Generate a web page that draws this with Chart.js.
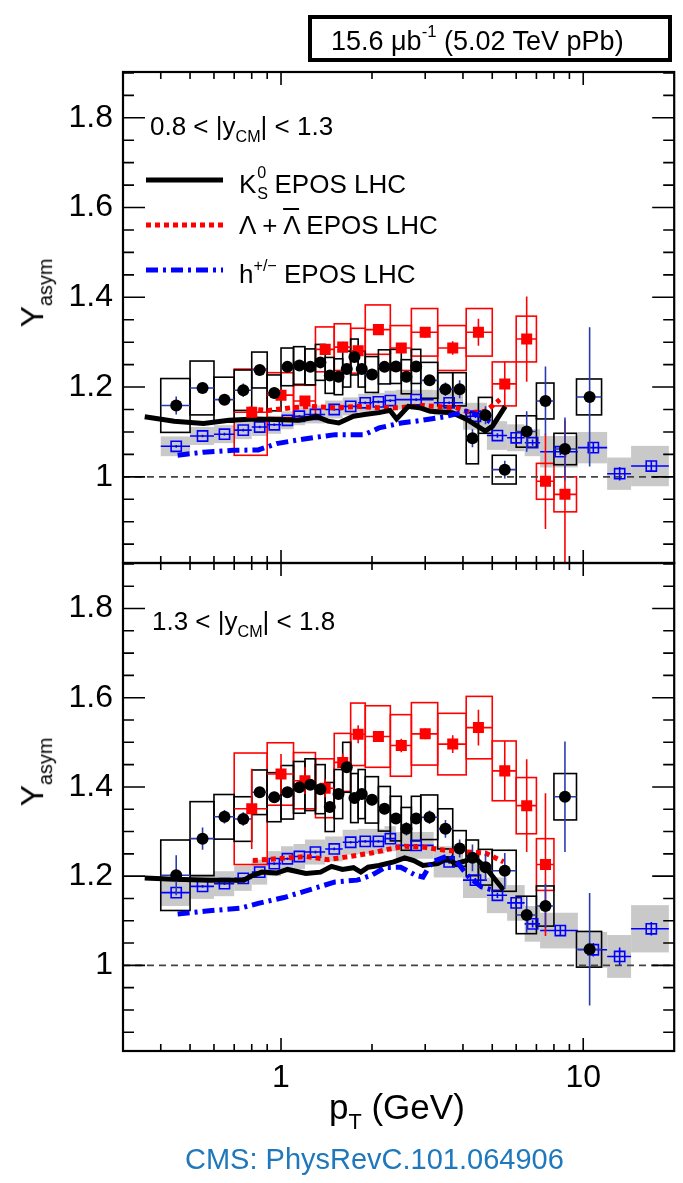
<!DOCTYPE html>
<html>
<head>
<meta charset="utf-8">
<script src="https://cdn.jsdelivr.net/npm/chart.js@4.4.1/dist/chart.umd.min.js"></script>
<style>
  body { margin: 0; background: #fff; }
  #wrap { position: relative; width: 683px; height: 1183px; overflow: hidden;
          font-family: "Liberation Sans", Arial, sans-serif; color: #000; }
  canvas { position: absolute; left: 0; top: 0; }
  .t { position: absolute; white-space: nowrap; line-height: 1; }
  .t sub { font-size: 62%; vertical-align: -0.45em; }
  .t sup { font-size: 62%; vertical-align: 0.75em; }
  #lumi { left: 308px; top: 15px; width: 364px; height: 47px; box-sizing: border-box;
          border: 4px solid #000; font-size: 27px; display: flex; align-items: center;
          justify-content: flex-start; padding: 2px 0 0 19px; }
  .rap { font-size: 26px; }
  .leg { font-size: 26px; }
  .ss { position: relative; display: inline-block; width: 0.42em; height: 1em; vertical-align: baseline; }
  .ss .s0 { position: absolute; left: 1px; top: -0.18em; font-size: 62%; }
  .ss .s1 { position: absolute; left: 1px; top: 1.1em; font-size: 62%; }
  .sample { position: absolute; }
  .ytitle { font-size: 32px; transform: translate(-50%, -50%) rotate(-90deg); }
  #xtitle { left: 329px; top: 1089px; font-size: 35px; }
  #footer { left: 185px; top: 1145px; font-size: 29px; color: #1f78bb; }
</style>
</head>
<body>
<div id="wrap">
  <canvas id="cTop" width="683" height="1183"></canvas>
  <canvas id="cBot" width="683" height="1183"></canvas>

  <div class="t" id="lumi"><span>15.6 μb<sup>-1</sup> (5.02 TeV pPb)</span></div>

  <div class="t rap" style="left:150px; top:113px;">0.8 &lt; |y<sub>CM</sub>| &lt; 1.3</div>
  <div class="t rap" style="left:152px; top:608px;">1.3 &lt; |y<sub>CM</sub>| &lt; 1.8</div>

  <svg class="sample" style="left:146px; top:174px;" width="78" height="12">
    <line x1="0" y1="6" x2="77" y2="6" stroke="#000" stroke-width="5"/></svg>
  <div class="t leg" style="left:239px; top:167px;">K<span class="ss"><span class="s0">0</span><span class="s1">S</span></span> EPOS LHC</div>

  <svg class="sample" style="left:146px; top:219px;" width="78" height="12">
    <line x1="0" y1="6" x2="77" y2="6" stroke="#f00" stroke-width="5" stroke-dasharray="5 4"/></svg>
  <div class="t leg" style="left:239px; top:212px;">Λ + <span style="text-decoration:overline">Λ</span> EPOS LHC</div>

  <svg class="sample" style="left:146px; top:264px;" width="78" height="12">
    <line x1="0" y1="6" x2="77" y2="6" stroke="#00f" stroke-width="5" stroke-dasharray="12 5 3 5"/></svg>
  <div class="t leg" style="left:239px; top:257px;">h<sup>+/−</sup> EPOS LHC</div>

  <div class="t ytitle" style="left:36px; top:293px;">Y<sub>asym</sub></div>
  <div class="t ytitle" style="left:36px; top:772px;">Y<sub>asym</sub></div>

  <div class="t" id="xtitle">p<sub>T</sub> (GeV)</div>
  <div class="t" id="footer">CMS: PhysRevC.101.064906</div>
</div>

<script>
/* ---------- axes ---------- */
const xMin = 0.3, xMax = 20;
const yMin = 0.808, yMax = 1.902;
const refY = 1;
const xTickVals = [1, 10];
const xMinorVals = [0.4, 0.5, 0.6, 0.7, 0.8, 0.9, 2, 3, 4, 5, 6, 7, 8, 9];
const yTickVals = [1, 1.2, 1.4, 1.6, 1.8];

/* ---------- K0S data (black circles) ---------- */
const kPt    = [0.45,0.55,0.65,0.75,0.85,0.95,1.05,1.15,1.25,1.35,1.45,1.55,1.65,1.75,1.85,2.0,2.2,2.4,2.6,2.8,3.1,3.5,3.9,4.3,4.75,5.5,6.5,7.5,8.7,10.5];
const kEdges = [0.4,0.5,0.6,0.7,0.8,0.9,1.0,1.1,1.2,1.3,1.4,1.5,1.6,1.7,1.8,1.9,2.1,2.3,2.5,2.7,2.9,3.3,3.7,4.1,4.5,5.0,6.0,7.0,8.0,9.5,11.5];
const kTopY    = [1.159,1.198,1.172,1.193,1.238,1.187,1.245,1.248,1.245,1.255,1.226,1.223,1.240,1.267,1.240,1.228,1.245,1.246,1.223,1.246,1.215,1.195,1.195,1.086,1.137,1.016,1.101,1.169,1.062,1.178];
const kTopStat = [0.02,0.012,0.012,0.015,0.012,0.012,0.01,0.01,0.01,0.01,0.01,0.01,0.01,0.012,0.01,0.01,0.01,0.01,0.01,0.01,0.012,0.015,0.02,0.02,0.02,0.02,0.045,0.077,0.07,0.155];
const kTopSys  = [0.06,0.06,0.05,0.045,0.04,0.04,0.042,0.042,0.04,0.04,0.04,0.04,0.04,0.04,0.04,0.04,0.038,0.038,0.038,0.038,0.04,0.037,0.037,0.057,0.04,0.032,0.035,0.04,0.035,0.04];
const kBotY    = [1.202,1.284,1.333,1.328,1.388,1.377,1.388,1.399,1.405,1.395,1.355,1.384,1.444,1.375,1.384,1.371,1.351,1.329,1.306,1.329,1.332,1.306,1.262,1.241,1.22,1.212,1.113,1.133,1.378,1.036];
const kBotStat = [0.045,0.025,0.015,0.015,0.012,0.012,0.012,0.012,0.012,0.012,0.012,0.012,0.012,0.012,0.012,0.012,0.012,0.012,0.015,0.012,0.015,0.02,0.02,0.03,0.03,0.04,0.04,0.05,0.124,0.126];
const kBotSys  = [0.079,0.083,0.05,0.05,0.05,0.055,0.06,0.058,0.058,0.055,0.055,0.055,0.056,0.055,0.055,0.052,0.05,0.05,0.048,0.05,0.05,0.045,0.04,0.04,0.04,0.046,0.042,0.045,0.052,0.04];

/* ---------- Lambda data (red squares) ---------- */
const lamPt    = [0.8,1.0,1.2,1.4,1.6,1.8,2.1,2.5,3.0,3.7,4.5,5.5,6.5,7.5,8.7];
const lamEdges = [0.7,0.9,1.1,1.3,1.5,1.7,1.9,2.3,2.7,3.3,4.1,5.0,6.0,7.0,8.0,9.5];
const lamTopY    = [1.144,1.182,1.169,1.284,1.289,1.281,1.328,1.287,1.322,1.287,1.322,1.207,1.307,0.99,0.961];
const lamTopStat = [0.012,0.012,0.01,0.012,0.012,0.012,0.012,0.01,0.012,0.015,0.03,0.05,0.095,0.106,0.165];
const lamTopSys  = [0.096,0.05,0.035,0.05,0.052,0.05,0.055,0.05,0.053,0.05,0.053,0.049,0.051,0.04,0.039];
const lamBotY    = [1.351,1.429,1.414,1.397,1.455,1.518,1.513,1.493,1.519,1.496,1.533,1.436,1.358,1.226];
const lamBotStat = [0.09,0.045,0.03,0.02,0.02,0.02,0.012,0.015,0.012,0.02,0.04,0.067,0.104,0.16];
const lamBotSys  = [0.125,0.07,0.063,0.066,0.065,0.07,0.069,0.069,0.07,0.069,0.07,0.067,0.063,0.058];

/* ---------- charged hadron data (blue open squares) ---------- */
const hPt    = [0.45,0.55,0.65,0.75,0.85,0.95,1.05,1.15,1.3,1.5,1.7,1.9,2.1,2.3,2.8,3.6,4.4,5.2,6.0,6.8,8.4,10.8,13.2,16.8];
const hEdges = [0.4,0.5,0.6,0.7,0.8,0.9,1.0,1.1,1.2,1.4,1.6,1.8,2.0,2.2,2.4,3.2,4.0,4.8,5.6,6.4,7.2,9.6,12,14.4,19.2];
const hTopY    = [1.068,1.091,1.095,1.104,1.111,1.116,1.126,1.135,1.139,1.15,1.157,1.165,1.167,1.17,1.172,1.165,1.135,1.092,1.087,1.076,1.056,1.065,1.007,1.024];
const hTopStat = [0.003,0.003,0.003,0.003,0.003,0.003,0.003,0.003,0.003,0.003,0.003,0.003,0.003,0.003,0.003,0.003,0.004,0.005,0.006,0.007,0.008,0.012,0.015,0.012];
const hTopSys  = [0.022,0.02,0.02,0.02,0.02,0.02,0.02,0.02,0.02,0.02,0.02,0.02,0.02,0.022,0.022,0.028,0.03,0.032,0.03,0.03,0.035,0.035,0.036,0.045];
const hBotY    = [1.163,1.177,1.183,1.195,1.209,1.228,1.239,1.244,1.254,1.261,1.276,1.278,1.278,1.284,1.269,1.232,1.191,1.157,1.14,1.093,1.078,1.035,1.02,1.082];
const hBotStat = [0.003,0.003,0.003,0.003,0.003,0.003,0.003,0.003,0.003,0.003,0.003,0.003,0.003,0.003,0.003,0.004,0.005,0.006,0.007,0.008,0.01,0.015,0.02,0.015];
const hBotSys  = [0.03,0.028,0.028,0.028,0.028,0.028,0.028,0.028,0.028,0.028,0.028,0.028,0.028,0.028,0.03,0.035,0.04,0.04,0.04,0.04,0.04,0.04,0.048,0.053];

/* ---------- EPOS LHC curves ---------- */
const eposKTopX = [0.354,0.443,0.554,0.673,0.818,0.967,1.143,1.314,1.43,1.553,1.737,1.888,2.11,2.295,2.413,2.638,2.868,3.12,3.686,4.12,4.74,5.01,5.52];
const eposKTopY = [1.134,1.124,1.119,1.126,1.129,1.128,1.126,1.134,1.124,1.12,1.135,1.139,1.143,1.148,1.129,1.157,1.154,1.146,1.143,1.128,1.102,1.113,1.157];
const eposLTopX = [0.785,0.915,1.081,1.26,1.51,1.79,2.11,2.49,2.95,3.39,3.79,4.24,4.74,5.3];
const eposLTopY = [1.151,1.148,1.154,1.157,1.154,1.157,1.154,1.154,1.159,1.156,1.154,1.143,1.146,1.172];
const eposHTopX = [0.455,0.554,0.692,0.841,0.967,1.208,1.51,1.888,2.11,2.495,2.79,3.49,4.12,4.6,5.01];
const eposHTopY = [1.048,1.055,1.059,1.06,1.074,1.085,1.094,1.094,1.109,1.12,1.124,1.134,1.146,1.135,1.119];

const eposKBotX = [0.354,0.443,0.586,0.753,0.796,0.865,0.967,1.051,1.209,1.351,1.469,1.597,1.737,1.837,1.942,2.11,2.36,2.566,2.75,2.95,3.30,3.54,3.79,4.12,4.30,4.74,5.45];
const eposKBotY = [1.196,1.193,1.191,1.191,1.2,1.209,1.207,1.215,1.206,1.209,1.222,1.215,1.219,1.209,1.22,1.224,1.232,1.241,1.235,1.224,1.228,1.239,1.228,1.235,1.246,1.22,1.169];
const eposLBotX = [0.807,0.967,1.209,1.429,1.689,1.996,2.295,2.566,2.95,3.49,4.12,4.74,5.45];
const eposLBotY = [1.235,1.239,1.244,1.237,1.244,1.252,1.261,1.267,1.265,1.258,1.254,1.252,1.232];
const eposHBotX = [0.455,0.568,0.732,0.841,1.022,1.278,1.51,1.786,1.996,2.2,2.49,2.79,2.95,3.16,3.58,3.79,4.18,4.6,5.0];
const eposHBotY = [1.115,1.122,1.128,1.139,1.152,1.172,1.187,1.191,1.202,1.219,1.22,1.202,1.198,1.232,1.246,1.235,1.198,1.176,1.169];

/* ---------- helpers ---------- */
const pts = (xs, ys) => ys.map((v, i) => ({ x: xs[i], y: v }));
const FONT = '"Liberation Sans", Arial, sans-serif';

function clipArea(ctx, a) { ctx.beginPath(); ctx.rect(a.left, a.top, a.right - a.left, a.bottom - a.top); ctx.clip(); }

/* systematic boxes: grey fills first, then open outlines */
const sysBoxes = {
  id: 'sysBoxes',
  beforeDatasetsDraw(chart) {
    const { ctx, chartArea: a, scales: { x, y } } = chart;
    ctx.save(); clipArea(ctx, a);
    chart.data.datasets.filter(ds => ds.sys).sort((p, q) => q.order - p.order).forEach(ds => {
      ds.data.forEach((p, i) => {
        const x0 = x.getPixelForValue(ds.edges[i]), x1 = x.getPixelForValue(ds.edges[i + 1]);
        const y0 = y.getPixelForValue(p.y + ds.sys[i]), y1 = y.getPixelForValue(p.y - ds.sys[i]);
        if (ds.boxFill) { ctx.fillStyle = ds.boxFill; ctx.fillRect(x0, y0, x1 - x0, y1 - y0); }
        else { ctx.strokeStyle = ds.boxStroke; ctx.lineWidth = 1.6; ctx.strokeRect(x0, y0, x1 - x0, y1 - y0); }
      });
    });
    ctx.restore();
  }
};

/* stat. error bars + bin-width bars, drawn just under each marker set */
const errBars = {
  id: 'errBars',
  beforeDatasetDraw(chart, args) {
    const ds = chart.data.datasets[args.index];
    if (!ds.stat) return;
    const { ctx, chartArea: a, scales: { x, y } } = chart;
    ctx.save(); clipArea(ctx, a);
    ctx.strokeStyle = ds.barColor; ctx.lineWidth = 1.6;
    ctx.beginPath();
    ds.data.forEach((p, i) => {
      const px = x.getPixelForValue(p.x), py = y.getPixelForValue(p.y);
      ctx.moveTo(x.getPixelForValue(ds.edges[i]), py); ctx.lineTo(x.getPixelForValue(ds.edges[i + 1]), py);
      ctx.moveTo(px, y.getPixelForValue(p.y + ds.stat[i])); ctx.lineTo(px, y.getPixelForValue(p.y - ds.stat[i]));
    });
    ctx.stroke(); ctx.restore();
  }
};

/* ROOT-like frame with inward ticks on all four sides */
const frameTicks = {
  id: 'frameTicks',
  afterDatasetsDraw(chart) {
    const { ctx, chartArea: a, scales: { x, y } } = chart;
    ctx.save();
    ctx.strokeStyle = '#000'; ctx.lineWidth = 1.6;
    ctx.beginPath();
    const tx = (v, len) => { const p = x.getPixelForValue(v);
      ctx.moveTo(p, a.bottom); ctx.lineTo(p, a.bottom - len); ctx.moveTo(p, a.top); ctx.lineTo(p, a.top + len); };
    const ty = (v, len) => { const p = y.getPixelForValue(v);
      ctx.moveTo(a.left, p); ctx.lineTo(a.left + len, p); ctx.moveTo(a.right, p); ctx.lineTo(a.right - len, p); };
    xTickVals.forEach(v => tx(v, 13));
    xMinorVals.forEach(v => tx(v, 7));
    yTickVals.forEach(v => ty(v, 22));
    for (let v = 0.85; v < yMax; v += 0.05) {
      const r = Math.round(v * 100) / 100;
      if (!yTickVals.some(t => Math.abs(t - r) < 1e-6)) ty(r, 11);
    }
    ctx.stroke();
    ctx.lineWidth = 2.2;
    ctx.strokeRect(a.left, a.top, a.right - a.left, a.bottom - a.top);
    ctx.restore();
  }
};

function makePanel(id, d, padTop, showX) {
  const datasets = [
    { label: 'K0S', data: pts(kPt, d.kY), pointStyle: 'circle', pointRadius: 6,
      pointBackgroundColor: '#000', pointBorderColor: '#000', pointBorderWidth: 0, order: 1,
      edges: kEdges, stat: d.kStat, sys: d.kSys, barColor: '#2a3bb0', boxStroke: '#000' },
    { label: 'Lambda', data: pts(lamPt, d.lY), pointStyle: 'rect', pointRadius: 7.8,
      pointBackgroundColor: '#f00', pointBorderColor: '#f00', pointBorderWidth: 0, order: 2,
      edges: lamEdges, stat: d.lStat, sys: d.lSys, barColor: '#f00', boxStroke: '#f00' },
    { label: 'EPOS h', data: pts(d.eH[0], d.eH[1]), showLine: true, pointRadius: 0,
      borderColor: '#00f', borderWidth: 5, borderDash: [12, 5, 3, 5], order: 3 },
    { label: 'EPOS K0S', data: pts(d.eK[0], d.eK[1]), showLine: true, pointRadius: 0,
      borderColor: '#000', borderWidth: 5, order: 4 },
    { label: 'EPOS Lambda', data: pts(d.eL[0], d.eL[1]), showLine: true, pointRadius: 0,
      borderColor: '#f00', borderWidth: 5, borderDash: [5, 4], order: 5 },
    { label: 'h', data: pts(hPt, d.hY), pointStyle: 'rect', pointRadius: 7.2,
      pointBackgroundColor: 'rgba(0,0,0,0)', pointBorderColor: '#00f', pointBorderWidth: 1.6, order: 6,
      edges: hEdges, stat: d.hStat, sys: d.hSys, barColor: '#00f', boxFill: '#c9c9c9' },
    { label: 'ref', data: [{ x: xMin, y: refY }, { x: xMax, y: refY }], showLine: true, pointRadius: 0,
      borderColor: '#444', borderWidth: 1.6, borderDash: [7, 5], order: 9 }
  ];
  return new Chart(document.getElementById(id), {
    type: 'scatter',
    data: { datasets },
    options: {
      responsive: false, animation: false, events: [],
      layout: { padding: { top: padTop, right: 1, left: 0, bottom: showX ? 72 : 1183 - 563 } },
      plugins: { legend: { display: false }, tooltip: { enabled: false } },
      scales: {
        x: {
          type: 'logarithmic', min: xMin, max: xMax, display: showX,
          grid: { display: false, drawTicks: false }, border: { display: false },
          afterBuildTicks: s => { s.ticks = xTickVals.map(v => ({ value: v })); },
          afterFit: s => { s.height = showX ? 60 : 0; },
          ticks: { padding: 8, color: '#000', font: { family: FONT, size: 32 },
                   maxRotation: 0, autoSkip: false, callback: v => String(v) }
        },
        y: {
          type: 'linear', min: yMin, max: yMax,
          grid: { display: false, drawTicks: false }, border: { display: false },
          afterBuildTicks: s => { s.ticks = yTickVals.map(v => ({ value: v })); },
          afterFit: s => { s.width = 123; },
          ticks: { padding: 10, color: '#000', font: { family: FONT, size: 32 }, callback: v => String(v) }
        }
      }
    },
    plugins: [sysBoxes, errBars, frameTicks]
  });
}

makePanel('cTop', {
  kY: kTopY, kStat: kTopStat, kSys: kTopSys,
  lY: lamTopY, lStat: lamTopStat, lSys: lamTopSys,
  hY: hTopY, hStat: hTopStat, hSys: hTopSys,
  eK: [eposKTopX, eposKTopY], eL: [eposLTopX, eposLTopY], eH: [eposHTopX, eposHTopY]
}, 72, false);

makePanel('cBot', {
  kY: kBotY, kStat: kBotStat, kSys: kBotSys,
  lY: lamBotY, lStat: lamBotStat, lSys: lamBotSys,
  hY: hBotY, hStat: hBotStat, hSys: hBotSys,
  eK: [eposKBotX, eposKBotY], eL: [eposLBotX, eposLBotY], eH: [eposHBotX, eposHBotY]
}, 563, true);
</script>
</body>
</html>
